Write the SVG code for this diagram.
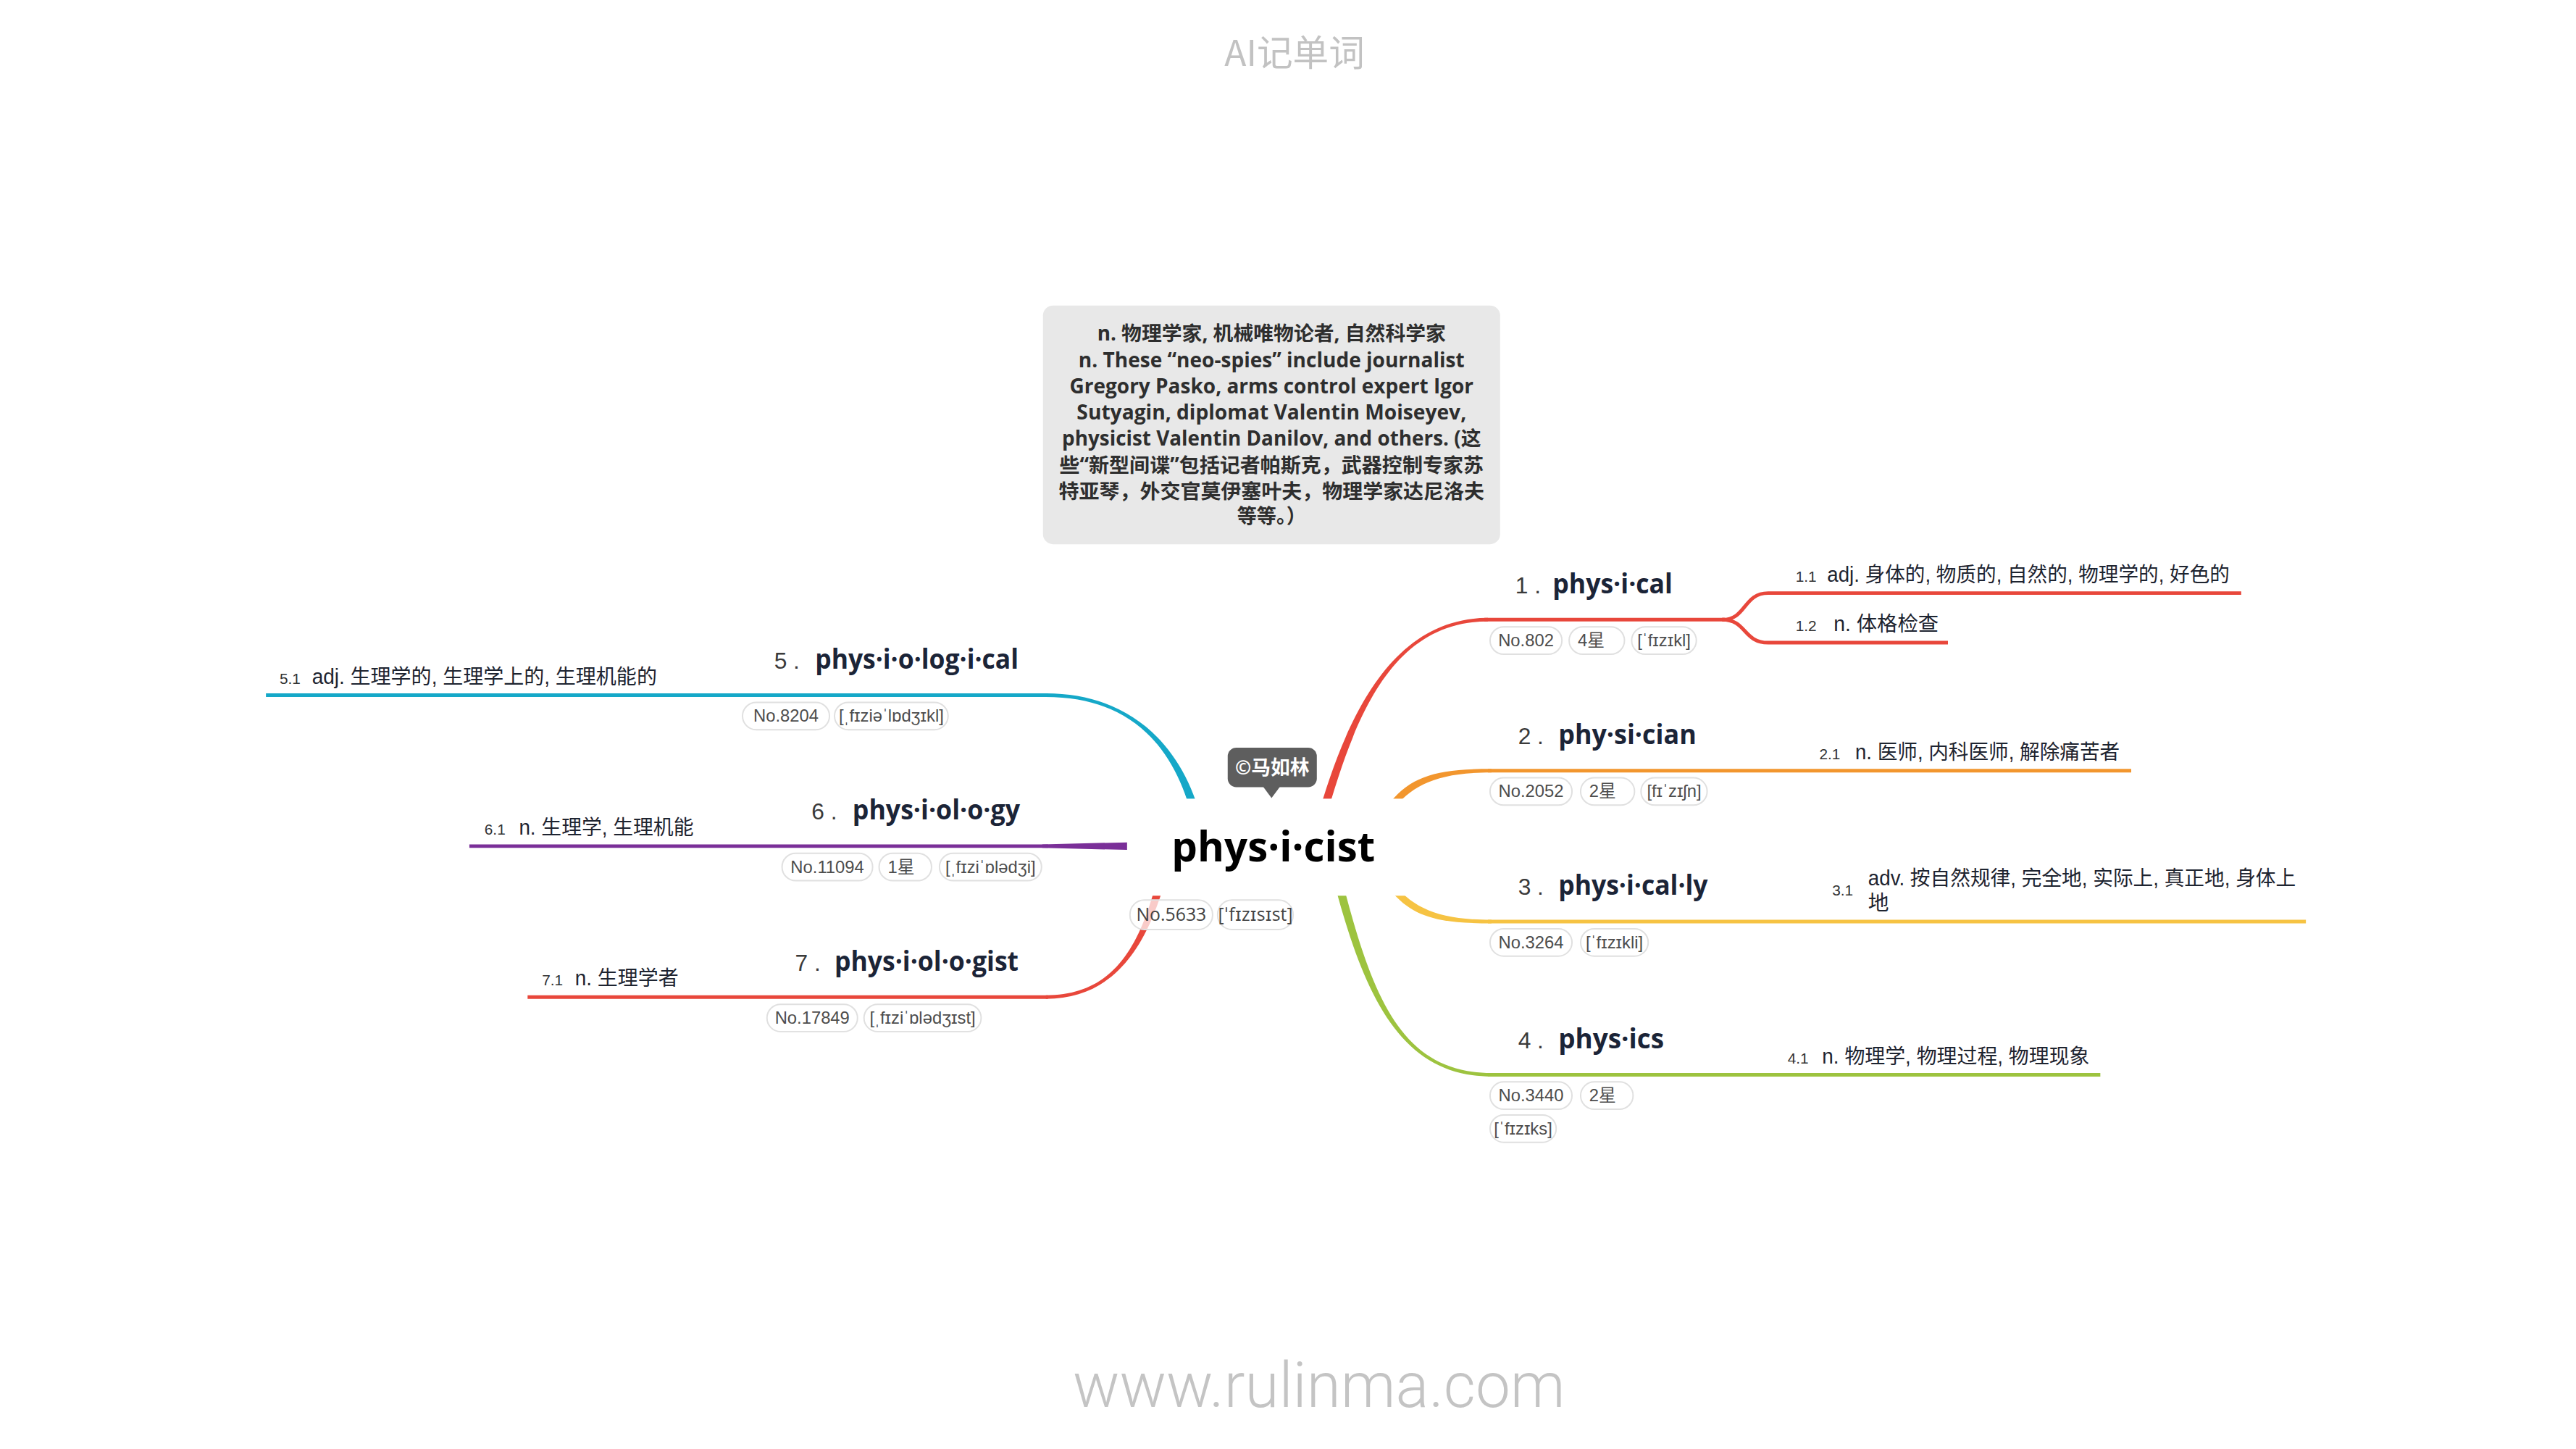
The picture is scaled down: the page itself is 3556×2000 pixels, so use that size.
<svg xmlns="http://www.w3.org/2000/svg" width="3556" height="2000" viewBox="0 0 3556 2000">
<style>
.t{font-family:"Open Sans","Noto Sans CJK SC",sans-serif;font-weight:700;fill:#1b2437;font-size:37px}
.num{font-family:"Liberation Sans","Noto Sans CJK SC",sans-serif;fill:#3a3a3a;font-size:32px}
.sn{font-family:"Liberation Sans",sans-serif;fill:#333;font-size:21px}
.d{font-family:"Liberation Sans","Noto Sans CJK SC",sans-serif;fill:#1e2430;font-size:29px}
.pill{fill:#fff;fill-opacity:.72;stroke:#e0e0e0;stroke-width:2}
.pt{font-family:"Liberation Sans","DejaVu Sans","Noto Sans CJK SC",sans-serif;font-size:24px;fill:#4d4d4d}
.pc{text-anchor:middle}
.rpt{font-family:"Open Sans","DejaVu Sans",sans-serif;font-size:25px;fill:#444;text-anchor:middle}
.note{font-family:"Open Sans","Noto Sans CJK SC",sans-serif;font-weight:700;font-size:28px;fill:#2e2e2e;text-anchor:middle}
.ul{fill:none;stroke-width:5}
.red{stroke:#e8473b}.redf{fill:#e8473b}
.org{stroke:#f2962e}.orgf{fill:#f2962e}
.yel{stroke:#f6c343}.yelf{fill:#f6c343}
.grn{stroke:#9dc33f}.grnf{fill:#9dc33f}
.blu{stroke:#15a8c8}.bluf{fill:#15a8c8}
.pur{stroke:#7a2f98}.purf{fill:#7a2f98}
</style>
<rect width="3556" height="2000" fill="#fff"/>
<g id="diagram" transform="scale(0.99225)">
<text x="1801" y="92" text-anchor="middle" font-family="Noto Sans CJK SC, sans-serif" font-size="50" fill="#c2c2c2">AI记单词</text>
<text x="1835" y="1957" text-anchor="middle" font-family="Roboto, Liberation Sans, sans-serif" font-weight="300" font-size="88" fill="#c4c4c4" textLength="685" lengthAdjust="spacingAndGlyphs">www.rulinma.com</text>

<g id="note">
<rect x="1451" y="425" width="636" height="332" rx="14" fill="#e8e8e8"/>
<text class="note" x="1769" y="474" textLength="485" lengthAdjust="spacingAndGlyphs">n. 物理学家, 机械唯物论者, 自然科学家</text>
<text class="note" x="1769" y="511" textLength="537" lengthAdjust="spacingAndGlyphs">n. These “neo-spies” include journalist</text>
<text class="note" x="1769" y="547" textLength="562" lengthAdjust="spacingAndGlyphs">Gregory Pasko, arms control expert Igor</text>
<text class="note" x="1769" y="584" textLength="542" lengthAdjust="spacingAndGlyphs">Sutyagin, diplomat Valentin Moiseyev,</text>
<text class="note" x="1769" y="620" textLength="583" lengthAdjust="spacingAndGlyphs">physicist Valentin Danilov, and others. (这</text>
<text class="note" x="1769" y="657" textLength="590" lengthAdjust="spacingAndGlyphs">些“新型间谍”包括记者帕斯克，武器控制专家苏</text>
<text class="note" x="1769" y="693" textLength="592" lengthAdjust="spacingAndGlyphs">特亚琴，外交官莫伊塞叶夫，物理学家达尼洛夫</text>
<text class="note" x="1769" y="728" textLength="96" lengthAdjust="spacingAndGlyphs">等等。）</text>
</g>

<g id="connectors">
<path class="redf" d="M1832 1140 C1872 1000 1935 859.5 2070 859.5 L2070 864.5 C1935 864.5 1884 1000 1844 1140 Z"/>
<path class="orgf" d="M1935 1115 C1965 1079 2000 1069.5 2075 1069.5 L2075 1074.5 C2000 1074.5 1965 1091 1935 1129 Z"/>
<path class="yelf" d="M1935 1225 C1965 1263 2000 1279.5 2075 1279.5 L2075 1284.5 C2000 1284.5 1965 1275 1935 1239 Z"/>
<path class="grnf" d="M1849 1200 C1894 1380 1945 1497.5 2075 1497.5 L2075 1492.5 C1945 1492.5 1906 1380 1861 1200 Z"/>
<path class="bluf" d="M1674 1150 C1649 1040 1575 964.5 1455 964.5 L1455 969.5 C1575 969.5 1637 1040 1662 1150 Z"/>
<path class="redf" d="M1630 1190 C1605 1300 1560 1389.5 1455 1389.5 L1455 1384.5 C1560 1384.5 1593 1300 1618 1190 Z"/>
<polygon class="purf" points="1450,1174.5 1600,1171 1600,1183 1450,1179.5"/>
<path class="ul red" d="M2065 862 H2400"/>
<path class="ul red" d="M2396 862 C2430 862 2425 825 2460 825 H3118"/>
<path class="ul red" d="M2396 862 C2430 862 2425 894 2460 894 H2710"/>
<path class="ul org" d="M2070 1072 H2965"/>
<path class="ul yel" d="M2070 1282 H3208"/>
<path class="ul grn" d="M2070 1495 H2922"/>
<path class="ul blu" d="M370 967 H1458"/>
<path class="ul pur" d="M653 1177 H1458"/>
<path class="ul red" d="M734 1387 H1458"/>
</g>

<g id="root">
<rect x="1568" y="1111" width="404" height="135" fill="#fff"/>
<text x="1630" y="1198" font-family="Open Sans, sans-serif" font-weight="700" font-size="58" fill="#000" textLength="283" lengthAdjust="spacingAndGlyphs">phys·i·cist</text>
<rect class="pill" x="1572" y="1252" width="115" height="41" rx="20"/>
<text class="rpt" x="1629.5" y="1281">No.5633</text>
<rect class="pill" x="1694" y="1252" width="105" height="41" rx="20"/>
<text class="rpt" x="1746.5" y="1281">[ˈfɪzɪsɪst]</text>
</g>

<g id="copyright">
<rect x="1708" y="1040" width="124" height="55" rx="12" fill="#5e5e5e"/>
<path d="M1757 1094 L1769 1110 L1781 1094 Z" fill="#5e5e5e"/>
<text x="1770" y="1077" text-anchor="middle" font-family="Open Sans, Noto Sans CJK SC, sans-serif" font-weight="700" font-size="27" fill="#fff">©马如林</text>
</g>

<g id="node1">
<text class="num" x="2108" y="825">1 .</text>
<text class="t" x="2160" y="825" textLength="167" lengthAdjust="spacingAndGlyphs">phys·i·cal</text>
<rect class="pill" x="2073" y="872" width="100" height="38" rx="19"/><text class="pt pc" x="2123" y="899">No.802</text>
<rect class="pill" x="2183" y="872" width="77" height="38" rx="19"/><text class="pt" x="2195" y="899">4星</text>
<rect class="pill" x="2270" y="872" width="90" height="38" rx="19"/><text class="pt pc" x="2315" y="899">[ˈfɪzɪkl]</text>
</g>
<g id="node1-1">
<text class="sn" x="2498" y="809">1.1</text>
<text class="d" x="2542" y="809" textLength="560" lengthAdjust="spacingAndGlyphs">adj. 身体的, 物质的, 自然的, 物理学的, 好色的</text>
</g>
<g id="node1-2">
<text class="sn" x="2498" y="878">1.2</text>
<text class="d" x="2551" y="878" textLength="146" lengthAdjust="spacingAndGlyphs">n. 体格检查</text>
</g>

<g id="node2">
<text class="num" x="2112" y="1035">2 .</text>
<text class="t" x="2168" y="1035" textLength="192" lengthAdjust="spacingAndGlyphs">phy·si·cian</text>
<rect class="pill" x="2073" y="1082" width="114" height="38" rx="19"/><text class="pt pc" x="2130" y="1109">No.2052</text>
<rect class="pill" x="2199" y="1082" width="75" height="38" rx="19"/><text class="pt" x="2211" y="1109">2星</text>
<rect class="pill" x="2283" y="1082" width="92" height="38" rx="19"/><text class="pt pc" x="2329" y="1109">[fɪˈzɪʃn]</text>
</g>
<g id="node2-1">
<text class="sn" x="2531" y="1056">2.1</text>
<text class="d" x="2581" y="1056" textLength="368" lengthAdjust="spacingAndGlyphs">n. 医师, 内科医师, 解除痛苦者</text>
</g>

<g id="node3">
<text class="num" x="2112" y="1245">3 .</text>
<text class="t" x="2168" y="1245" textLength="208" lengthAdjust="spacingAndGlyphs">phys·i·cal·ly</text>
<rect class="pill" x="2073" y="1292" width="114" height="38" rx="19"/><text class="pt pc" x="2130" y="1319">No.3264</text>
<rect class="pill" x="2199" y="1292" width="94" height="38" rx="19"/><text class="pt pc" x="2246" y="1319">[ˈfɪzɪkli]</text>
</g>
<g id="node3-1">
<text class="sn" x="2549" y="1246">3.1</text>
<text class="d" x="2599" y="1232" textLength="595" lengthAdjust="spacingAndGlyphs">adv. 按自然规律, 完全地, 实际上, 真正地, 身体上</text>
<text class="d" x="2599" y="1266">地</text>
</g>

<g id="node4">
<text class="num" x="2112" y="1458">4 .</text>
<text class="t" x="2168" y="1458" textLength="147" lengthAdjust="spacingAndGlyphs">phys·ics</text>
<rect class="pill" x="2073" y="1505" width="114" height="38" rx="19"/><text class="pt pc" x="2130" y="1532">No.3440</text>
<rect class="pill" x="2199" y="1505" width="73" height="38" rx="19"/><text class="pt" x="2211" y="1532">2星</text>
<rect class="pill" x="2073" y="1551" width="92" height="38" rx="19"/><text class="pt pc" x="2119" y="1578">[ˈfɪzɪks]</text>
</g>
<g id="node4-1">
<text class="sn" x="2487" y="1479">4.1</text>
<text class="d" x="2535" y="1479" textLength="372" lengthAdjust="spacingAndGlyphs">n. 物理学, 物理过程, 物理现象</text>
</g>

<g id="node5">
<text class="num" x="1077" y="930">5 .</text>
<text class="t" x="1134" y="930" textLength="283" lengthAdjust="spacingAndGlyphs">phys·i·o·log·i·cal</text>
<rect class="pill" x="1033" y="977" width="121" height="38" rx="19"/><text class="pt pc" x="1093.5" y="1004">No.8204</text>
<rect class="pill" x="1161" y="977" width="158" height="38" rx="19"/><text class="pt pc" x="1240" y="1004">[ˌfɪziəˈlɒdʒɪkl]</text>
</g>
<g id="node5-1">
<text class="sn" x="389" y="951">5.1</text>
<text class="d" x="434" y="951" textLength="480" lengthAdjust="spacingAndGlyphs">adj. 生理学的, 生理学上的, 生理机能的</text>
</g>

<g id="node6">
<text class="num" x="1129" y="1140">6 .</text>
<text class="t" x="1186" y="1140" textLength="233" lengthAdjust="spacingAndGlyphs">phys·i·ol·o·gy</text>
<rect class="pill" x="1088" y="1187" width="126" height="38" rx="19"/><text class="pt pc" x="1151" y="1214">No.11094</text>
<rect class="pill" x="1223" y="1187" width="73" height="38" rx="19"/><text class="pt" x="1235" y="1214">1星</text>
<rect class="pill" x="1307" y="1187" width="142" height="38" rx="19"/><text class="pt pc" x="1378" y="1214">[ˌfɪziˈɒlədʒi]</text>
</g>
<g id="node6-1">
<text class="sn" x="674" y="1161">6.1</text>
<text class="d" x="722" y="1161" textLength="243" lengthAdjust="spacingAndGlyphs">n. 生理学, 生理机能</text>
</g>

<g id="node7">
<text class="num" x="1106" y="1350">7 .</text>
<text class="t" x="1161" y="1350" textLength="256" lengthAdjust="spacingAndGlyphs">phys·i·ol·o·gist</text>
<rect class="pill" x="1067" y="1397" width="126" height="38" rx="19"/><text class="pt pc" x="1130" y="1424">No.17849</text>
<rect class="pill" x="1202" y="1397" width="163" height="38" rx="19"/><text class="pt pc" x="1283.5" y="1424">[ˌfɪziˈɒlədʒɪst]</text>
</g>
<g id="node7-1">
<text class="sn" x="754" y="1371">7.1</text>
<text class="d" x="800" y="1371" textLength="144" lengthAdjust="spacingAndGlyphs">n. 生理学者</text>
</g>
</g>
</svg>
